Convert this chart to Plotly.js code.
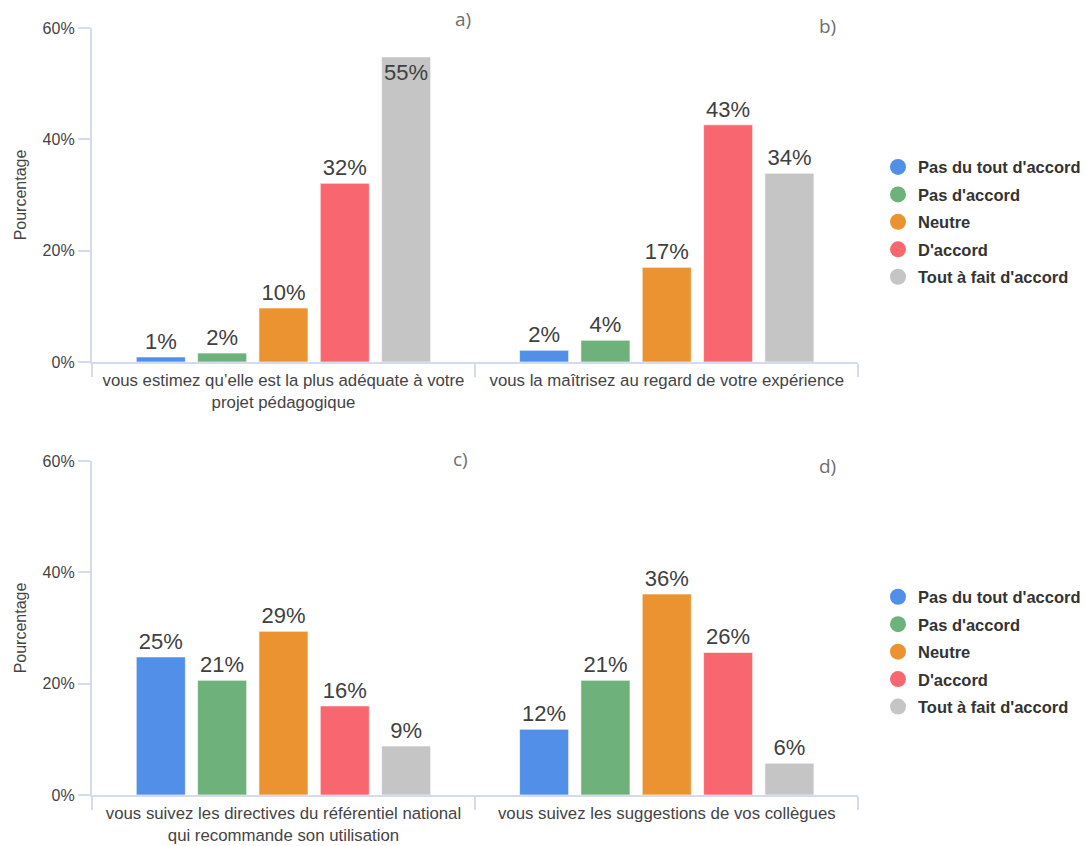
<!DOCTYPE html>
<html>
<head>
<meta charset="utf-8">
<script src="https://cdn.plot.ly/plotly-3.0.1.min.js"></script>
<style>html,body{margin:0;padding:0;background:#fff;}#chart{width:1086px;height:846px;}</style>
</head>
<body>
<div id="chart"></div>
<script>
// ---- data ----
const seriesNames = ["Pas du tout d'accord", "Pas d'accord", "Neutre", "D'accord", "Tout à fait d'accord"];
const seriesColors = ["#528FE8", "#6EB17B", "#EB9331", "#F8666F", "#C5C5C5"];

const topCategories = [
  "vous estimez qu’elle est la plus adéquate à votre<br>projet pédagogique",
  "vous la maîtrisez au regard de votre expérience"
];
const bottomCategories = [
  "vous suivez les directives du référentiel national<br>qui recommande son utilisation",
  "vous suivez les suggestions de vos collègues"
];

// values per series: [category 1, category 2]
const topPasDuTout   = [0.9, 2.1];
const topPasDAccord  = [1.6, 3.9];
const topNeutre      = [9.7, 17.0];
const topDAccord     = [32.1, 42.6];
const topToutAFait   = [54.8, 33.9];

const botPasDuTout   = [24.8, 11.8];
const botPasDAccord  = [20.6, 20.6];
const botNeutre      = [29.4, 36.1];
const botDAccord     = [16.0, 25.6];
const botToutAFait   = [8.8, 5.7];

const panelLetters = ["a)", "b)", "c)", "d)"];
const yTickValues = [0, 20, 40, 60];
const yTickLabels = ["0%", "20%", "40%", "60%"];

// ---- build ----
const topSeries = [topPasDuTout, topPasDAccord, topNeutre, topDAccord, topToutAFait];
const botSeries = [botPasDuTout, botPasDAccord, botNeutre, botDAccord, botToutAFait];

const textFont = {family: "Liberation Sans, Arial, sans-serif", size: 22, color: "#404040"};
const traces = [];
function addBars(series, cats, xa, ya) {
  series.forEach((vals, i) => {
    traces.push({
      type: "bar",
      x: cats, y: vals,
      xaxis: xa, yaxis: ya,
      name: seriesNames[i],
      showlegend: false,
      marker: {color: seriesColors[i], line: {color: "rgba(255,255,255,0.6)", width: 1}},
      texttemplate: "%{y:.0f}%",
      textposition: vals.map(v => v > 50 ? "inside" : "outside"),
      insidetextanchor: "end",
      textangle: 0,
      textfont: textFont,
      insidetextfont: textFont,
      outsidetextfont: textFont,
      constraintext: "none",
      cliponaxis: false,
      hoverinfo: "skip"
    });
  });
}
addBars(topSeries, topCategories, "x", "y");
addBars(botSeries, bottomCategories, "x2", "y2");

// legend-only circle entries
["legend", "legend2"].forEach(lg => {
  seriesNames.forEach((n, i) => {
    traces.push({
      type: "scatter", mode: "markers",
      x: [null], y: [null],
      xaxis: lg === "legend" ? "x" : "x2",
      yaxis: lg === "legend" ? "y" : "y2",
      name: n, legend: lg, legendgroup: lg + i,
      marker: {color: seriesColors[i], size: 16, symbol: "circle"},
      showlegend: true
    });
  });
});

const axisColor = "#D3DBEC";
const tickFont = {family: "Liberation Sans, Arial, sans-serif", size: 16, color: "#444"};
function xAxis(anchor, domain) {
  return {
    anchor: anchor, domain: domain, type: "category",
    range: [-0.5, 1.5],
    showline: true, linecolor: axisColor, linewidth: 2,
    ticks: "outside", tickson: "boundaries", ticklen: 13, tickcolor: axisColor, tickwidth: 2,
    ticklabelstandoff: 2,
    showgrid: false, zeroline: false,
    tickfont: {family: "Liberation Sans, Arial, sans-serif", size: 16.8, color: "#444"},
    fixedrange: true
  };
}
function yAxis(anchor, domain) {
  return {
    anchor: anchor, domain: domain,
    range: [0, 60], tickmode: "array", tickvals: yTickValues, ticktext: yTickLabels,
    showline: true, linecolor: axisColor, linewidth: 2,
    ticks: "outside", ticklen: 12, tickcolor: axisColor, tickwidth: 2,
    showgrid: false, zeroline: false,
    tickfont: tickFont,
    title: {text: "Pourcentage", font: {family: "Liberation Sans, Arial, sans-serif", size: 16, color: "#444"}, standoff: 12},
    fixedrange: true
  };
}

const legendFont = {family: "Liberation Sans, Arial, sans-serif", size: 16.5, color: "#333", weight: "bold"};
const letterFont = {family: "Open Sans, sans-serif", size: 19, color: "#6E6E6E"};
const letterPos = [[0.427, 0.977], [0.763, 0.969], [0.425, 0.457], [0.763, 0.449]];

const layout = {
  width: 1086, height: 846,
  margin: {l: 0, r: 0, t: 0, b: 0},
  paper_bgcolor: "#fff", plot_bgcolor: "#fff",
  barmode: "group", bargap: 0.2, bargroupgap: 0.2,
  showlegend: true,
  xaxis: xAxis("y", [0.0847, 0.7919]),
  yaxis: yAxis("x", [0.5721, 0.9669]),
  xaxis2: xAxis("y2", [0.0847, 0.7919]),
  yaxis2: yAxis("x2", [0.0603, 0.4551]),
  legend: {x: 0.81, y: 0.823, xanchor: "left", yanchor: "top", font: legendFont, tracegroupgap: 3, bgcolor: "rgba(0,0,0,0)"},
  legend2: {x: 0.81, y: 0.315, xanchor: "left", yanchor: "top", font: legendFont, tracegroupgap: 3, bgcolor: "rgba(0,0,0,0)"},
  annotations: panelLetters.map((t, i) => ({
    text: t, xref: "paper", yref: "paper", x: letterPos[i][0], y: letterPos[i][1],
    xanchor: "center", yanchor: "middle", showarrow: false, font: letterFont
  }))
};

Plotly.newPlot("chart", traces, layout, {displayModeBar: false, staticPlot: true});
</script>
</body>
</html>
